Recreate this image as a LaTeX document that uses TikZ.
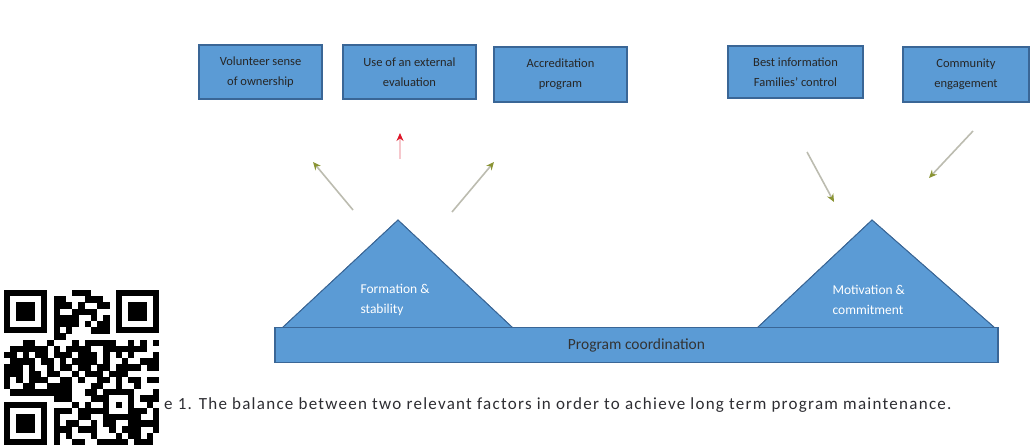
\documentclass[tikz,border=0pt]{standalone}
\usepackage{fontspec}
\setmainfont{Carlito}
\newfontfamily\capfont[LetterSpace=7.5]{Carlito}
\usetikzlibrary{arrows.meta, positioning, calc}
\definecolor{boxblue}{RGB}{91, 155, 213}
\definecolor{edgeblue}{RGB}{58, 102, 150}
\definecolor{shaftgrey}{RGB}{188, 188, 176}
\definecolor{tipolive}{RGB}{138, 148, 52}
\definecolor{tipred}{RGB}{222, 22, 40}
\definecolor{shaftpink}{RGB}{246, 200, 205}
\definecolor{capgrey}{RGB}{45, 45, 50}

\tikzset{
  factorbox/.style={draw=edgeblue, fill=boxblue, line width=1.1pt, minimum height=54pt, align=center,
    inner sep=2pt, text=black!85, font=\fontsize{12.5}{20}\selectfont},
  pyramid/.style={draw=edgeblue, fill=boxblue, line width=0.8pt},
  pyrlabel/.style={anchor=west, align=left, text=white, font=\fontsize{13.5}{20}\selectfont},
  pull/.style={shaftgrey, line width=1.6pt, -{Stealth[length=8pt, width=7pt, color=tipolive]}},
  veto/.style={shaftpink, line width=1.6pt, -{Stealth[length=8pt, width=7pt, color=tipred]}},
  qrcell/.style={fill=black}
}

\begin{document}
\begin{tikzpicture}[x=1pt, y=-1pt]
  \useasboundingbox (0,0) rectangle (1032,447);

  % factors above the balance
  \node[factorbox, minimum width=123pt] (owner) at (260.5, 72) {Volunteer sense\\of ownership};
  \node[factorbox, minimum width=133pt] (evalu) at (409.5, 72) {Use of an external\\evaluation};
  \node[factorbox, minimum width=133pt, minimum height=55pt] (accred) at (560.5, 74.5) {Accreditation\\program};
  \node[factorbox, minimum width=135pt, minimum height=52pt] (famil) at (795.5, 72) {Best information\\Families' control};
  \node[factorbox, minimum width=126pt, minimum height=55pt] (commu) at (966, 74.5) {Community\\engagement};

  % the two pyramids
  \coordinate (lefttop) at (398, 220);
  \coordinate (righttop) at (872, 220);
  \fill[pyramid] (282, 328) -- (lefttop) -- (513, 328) -- cycle;
  \fill[pyramid] (757, 328) -- (righttop) -- (995, 328) -- cycle;
  \draw[pyramid, fill=none] (282, 328) -- (lefttop) -- (513, 328);
  \draw[pyramid, fill=none] (757, 328) -- (righttop) -- (995, 328);
  \node[pyrlabel] (formation) at (357, 300) {Formation \&\\stability};
  \node[pyrlabel] (motivation) at (829, 300) {Motivation \&\\commitment};

  % common base
  \node[draw=edgeblue, fill=boxblue, line width=1.1pt, minimum width=723pt, minimum height=35pt,
    text=black!80, font=\fontsize{15.5}{18}\selectfont] (base) at (636.5, 345) {Program coordination};

  % forces
  \coordinate (a1s) at (353, 210);  \coordinate (a1e) at (313, 162);
  \coordinate (a2s) at (400, 159);  \coordinate (a2e) at (400, 133);
  \coordinate (a3s) at (452, 212);  \coordinate (a3e) at (494, 162);
  \coordinate (a4s) at (807, 152);  \coordinate (a4e) at (834, 202);
  \coordinate (a5s) at (973, 131);  \coordinate (a5e) at (929, 178);
  \draw[pull] (a1s) -- (a1e);
  \draw[veto] (a2s) -- (a2e);
  \draw[pull] (a3s) -- (a3e);
  \draw[pull] (a4s) -- (a4e);
  \draw[pull] (a5s) -- (a5e);

  % caption
  \node[anchor=west, text=capgrey, font=\capfont\fontsize{17}{19}\selectfont, inner sep=0pt] (caption) at (164, 405)
    {e 1. The balance between two relevant factors in order to achieve long term program maintenance.};

  % qr code
  \coordinate (qr) at (4, 290);
  \fill[white] (0, 286) rectangle (162, 447);
  \pgfmathsetseed{4217}
  \foreach \i in {0,...,24}{
    \foreach \j in {0,...,24}{
      \pgfmathtruncatemacro{\infinder}{((\i<8 && \j<8) || (\i>16 && \j<8) || (\i<8 && \j>16)) ? 1 : 0}
      \pgfmathtruncatemacro{\bit}{rnd<0.62 ? 1 : 0}
      \ifnum\infinder=0 \ifnum\bit=1
        \fill[qrcell] ($(qr)+(\i*6.2, \j*6.2)$) rectangle ++(6.3, 6.3);
      \fi\fi
    }
  }
  \foreach \fx/\fy in {0/0, 18/0, 0/18}{
    \fill[black] (4+\fx*6.2, 290+\fy*6.2) rectangle ++(43.4, 43.4);
    \fill[white] (4+\fx*6.2+6.2, 290+\fy*6.2+6.2) rectangle ++(31, 31);
    \fill[black] (4+\fx*6.2+12.4, 290+\fy*6.2+12.4) rectangle ++(18.6, 18.6);
  }
  \fill[black] (4+16*6.2, 290+16*6.2) rectangle ++(31, 31);
  \fill[white] (4+17*6.2, 290+17*6.2) rectangle ++(18.6, 18.6);
  \fill[black] (4+18*6.2, 290+18*6.2) rectangle ++(6.2, 6.2);
\end{tikzpicture}
\end{document}
